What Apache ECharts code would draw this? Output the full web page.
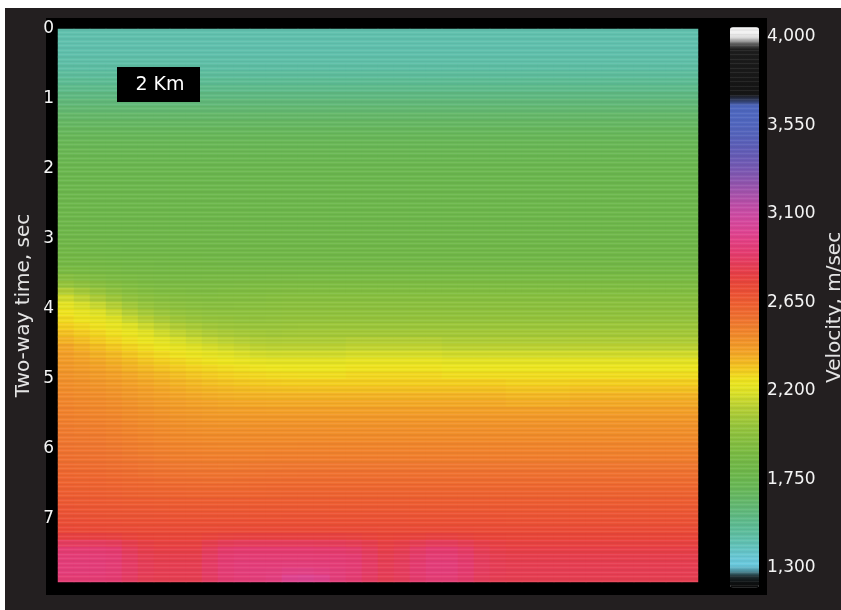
<!DOCTYPE html>
<html>
<head>
<meta charset="utf-8">
<title>Interval velocity section</title>
<script src="https://cdn.jsdelivr.net/npm/echarts@6/dist/echarts.min.js"></script>
<style>
  html, body { margin: 0; padding: 0; background: #ffffff; }
  #chart { position: absolute; left: 0; top: 0; width: 841px; height: 610px; }
</style>
</head>
<body>
<div id="chart"></div>
<script>
// Two-way time of each row centre (s)
const timeRows = [
  0.05, 0.15, 0.25, 0.35, 0.45, 0.55, 0.65, 0.75, 0.85, 0.95,
  1.05, 1.15, 1.25, 1.35, 1.45, 1.55, 1.65, 1.75, 1.85, 1.95,
  2.05, 2.15, 2.25, 2.35, 2.45, 2.55, 2.65, 2.75, 2.85, 2.95,
  3.05, 3.15, 3.25, 3.35, 3.45, 3.55, 3.65, 3.75, 3.85, 3.95,
  4.05, 4.15, 4.25, 4.35, 4.45, 4.55, 4.65, 4.75, 4.85, 4.95,
  5.05, 5.15, 5.25, 5.35, 5.45, 5.55, 5.65, 5.75, 5.85, 5.95,
  6.05, 6.15, 6.25, 6.35, 6.45, 6.55, 6.65, 6.75, 6.85, 6.95,
  7.05, 7.15, 7.25, 7.35, 7.45, 7.55, 7.65, 7.75, 7.85
];

// Trace groups along the line, left to right
const traceCols = [
  '1','2','3','4','5','6','7','8','9','10','11','12','13','14','15','16','17','18','19','20',
  '21','22','23','24','25','26','27','28','29','30','31','32','33','34','35','36','37','38','39','40'
];

// Interval velocity (m/s): one row per time sample, one value per trace group
const velocityRows = [
  [1440,1440,1440,1440,1440,1440,1440,1440,1440,1440,1440,1440,1440,1440,1440,1440,1440,1440,1440,1440,1440,1440,1440,1440,1440,1440,1440,1440,1440,1440,1440,1440,1440,1440,1440,1440,1440,1440,1440,1440],
  [1440,1440,1440,1440,1440,1440,1440,1440,1440,1440,1440,1440,1440,1440,1440,1440,1440,1440,1440,1440,1440,1440,1440,1440,1440,1440,1440,1440,1440,1440,1440,1440,1440,1440,1440,1440,1440,1440,1440,1440],
  [1442,1442,1442,1442,1442,1442,1442,1442,1442,1442,1442,1442,1442,1442,1442,1442,1442,1442,1442,1442,1442,1442,1442,1442,1442,1442,1442,1442,1442,1442,1442,1442,1442,1442,1442,1442,1442,1442,1442,1442],
  [1446,1446,1446,1446,1446,1446,1446,1446,1446,1446,1446,1446,1446,1446,1446,1446,1446,1446,1446,1446,1446,1446,1446,1446,1446,1446,1446,1446,1446,1446,1446,1446,1446,1446,1446,1446,1446,1446,1446,1446],
  [1452,1452,1452,1452,1452,1452,1452,1452,1452,1452,1452,1452,1452,1452,1452,1452,1452,1452,1452,1452,1452,1452,1452,1452,1452,1452,1452,1452,1452,1452,1452,1452,1452,1452,1452,1452,1452,1452,1452,1452],
  [1463,1463,1463,1463,1463,1463,1463,1463,1463,1463,1463,1463,1463,1463,1463,1463,1463,1463,1463,1463,1463,1463,1463,1463,1463,1463,1463,1463,1463,1463,1463,1463,1463,1463,1463,1463,1463,1463,1463,1463],
  [1482,1482,1482,1482,1482,1482,1482,1482,1482,1482,1482,1482,1482,1482,1482,1482,1482,1482,1482,1482,1482,1482,1482,1482,1482,1482,1482,1482,1482,1482,1482,1482,1482,1482,1482,1482,1482,1482,1482,1482],
  [1508,1508,1508,1508,1508,1508,1508,1508,1508,1508,1508,1508,1508,1508,1508,1508,1508,1508,1508,1508,1508,1508,1508,1508,1508,1508,1508,1508,1508,1508,1508,1508,1508,1508,1508,1508,1508,1508,1508,1508],
  [1537,1537,1537,1537,1537,1537,1537,1537,1537,1537,1537,1537,1537,1537,1537,1537,1537,1537,1537,1537,1537,1537,1537,1537,1537,1537,1537,1537,1537,1537,1537,1537,1537,1537,1537,1537,1537,1537,1537,1537],
  [1566,1566,1566,1566,1566,1566,1566,1566,1566,1566,1566,1566,1566,1566,1566,1566,1566,1566,1566,1566,1566,1566,1566,1566,1566,1566,1566,1566,1566,1566,1566,1566,1566,1566,1566,1566,1566,1566,1566,1566],
  [1594,1594,1594,1594,1594,1594,1594,1594,1594,1594,1594,1594,1594,1594,1594,1594,1594,1594,1594,1594,1594,1594,1594,1594,1594,1594,1594,1594,1594,1594,1594,1594,1594,1594,1594,1594,1594,1594,1594,1594],
  [1620,1620,1620,1620,1620,1620,1620,1620,1620,1620,1620,1620,1620,1620,1620,1620,1620,1620,1620,1620,1620,1620,1620,1620,1620,1620,1620,1620,1620,1620,1620,1620,1620,1620,1620,1620,1620,1620,1620,1620],
  [1645,1645,1645,1645,1645,1645,1645,1645,1645,1645,1645,1645,1645,1645,1645,1645,1645,1645,1645,1645,1645,1645,1645,1645,1645,1645,1645,1645,1645,1645,1645,1645,1645,1645,1645,1645,1645,1645,1645,1645],
  [1665,1665,1665,1665,1665,1665,1665,1665,1665,1665,1665,1665,1665,1665,1665,1665,1665,1665,1665,1665,1665,1665,1665,1665,1665,1665,1665,1665,1665,1665,1665,1665,1665,1665,1665,1665,1665,1665,1665,1665],
  [1685,1685,1685,1685,1685,1685,1685,1685,1685,1685,1685,1685,1685,1685,1685,1685,1685,1685,1685,1685,1685,1685,1685,1685,1685,1685,1685,1685,1685,1685,1685,1685,1685,1685,1685,1685,1685,1685,1685,1685],
  [1700,1700,1700,1700,1700,1700,1700,1700,1700,1700,1700,1700,1700,1700,1700,1700,1700,1700,1700,1700,1700,1700,1700,1700,1700,1700,1700,1700,1700,1700,1700,1700,1700,1700,1700,1700,1700,1700,1700,1700],
  [1715,1715,1715,1715,1715,1715,1715,1715,1715,1715,1715,1715,1715,1715,1715,1715,1715,1715,1715,1715,1715,1715,1715,1715,1715,1715,1715,1715,1715,1715,1715,1715,1715,1715,1715,1715,1715,1715,1715,1715],
  [1725,1725,1725,1725,1725,1725,1725,1725,1725,1725,1725,1725,1725,1725,1725,1725,1725,1725,1725,1725,1725,1725,1725,1725,1725,1725,1725,1725,1725,1725,1725,1725,1725,1725,1725,1725,1725,1725,1725,1725],
  [1735,1735,1735,1735,1735,1735,1735,1735,1735,1735,1735,1735,1735,1735,1735,1735,1735,1735,1735,1735,1735,1735,1735,1735,1735,1735,1735,1735,1735,1735,1735,1735,1735,1735,1735,1735,1735,1735,1735,1735],
  [1745,1745,1745,1745,1745,1745,1745,1745,1745,1745,1745,1745,1745,1745,1745,1745,1745,1745,1745,1745,1745,1745,1745,1745,1745,1745,1745,1745,1745,1745,1745,1745,1745,1745,1745,1745,1745,1745,1745,1745],
  [1750,1750,1750,1750,1750,1750,1750,1750,1750,1750,1750,1750,1750,1750,1750,1750,1750,1750,1750,1750,1750,1750,1750,1750,1750,1750,1750,1750,1750,1750,1750,1750,1750,1750,1750,1750,1750,1750,1750,1750],
  [1755,1755,1755,1755,1755,1755,1755,1755,1755,1755,1755,1755,1755,1755,1755,1755,1755,1755,1755,1755,1755,1755,1755,1755,1755,1755,1755,1755,1755,1755,1755,1755,1755,1755,1755,1755,1755,1755,1755,1755],
  [1760,1760,1760,1760,1760,1760,1760,1760,1760,1760,1760,1760,1760,1760,1760,1760,1760,1760,1760,1760,1760,1760,1760,1760,1760,1760,1760,1760,1760,1760,1760,1760,1760,1760,1760,1760,1760,1760,1760,1760],
  [1765,1765,1765,1765,1765,1765,1765,1765,1765,1765,1765,1765,1765,1765,1765,1765,1765,1765,1765,1765,1765,1765,1765,1765,1765,1765,1765,1765,1765,1765,1765,1765,1765,1765,1765,1765,1765,1765,1765,1765],
  [1770,1770,1770,1770,1770,1770,1770,1770,1770,1770,1770,1770,1770,1770,1770,1770,1770,1770,1770,1770,1770,1770,1770,1770,1770,1770,1770,1770,1770,1770,1770,1770,1770,1770,1770,1770,1770,1770,1770,1770],
  [1775,1775,1775,1775,1775,1775,1775,1775,1775,1775,1775,1775,1775,1775,1775,1775,1775,1775,1775,1775,1775,1775,1775,1775,1775,1775,1775,1775,1775,1775,1775,1775,1775,1775,1775,1775,1775,1775,1775,1775],
  [1780,1780,1780,1780,1780,1780,1780,1780,1780,1780,1780,1780,1780,1780,1780,1780,1780,1780,1780,1780,1780,1780,1780,1780,1780,1780,1780,1780,1780,1780,1780,1780,1780,1780,1780,1780,1780,1780,1780,1780],
  [1785,1785,1785,1785,1785,1785,1785,1785,1785,1785,1785,1785,1785,1785,1785,1785,1785,1785,1785,1785,1785,1785,1785,1785,1785,1785,1785,1785,1785,1785,1785,1785,1785,1785,1785,1785,1785,1785,1785,1785],
  [1790,1790,1790,1790,1790,1790,1790,1790,1790,1790,1790,1790,1790,1790,1790,1790,1790,1790,1790,1790,1790,1790,1790,1790,1790,1790,1790,1790,1790,1790,1790,1790,1790,1790,1790,1790,1790,1790,1790,1790],
  [1795,1795,1795,1795,1795,1795,1795,1795,1795,1795,1795,1795,1795,1795,1795,1795,1795,1795,1795,1795,1795,1795,1795,1795,1795,1795,1795,1795,1795,1795,1795,1795,1795,1795,1795,1795,1795,1795,1795,1795],
  [1812,1809,1806,1804,1802,1800,1800,1800,1800,1800,1800,1800,1800,1800,1800,1800,1800,1800,1800,1800,1800,1800,1800,1800,1800,1800,1800,1800,1800,1800,1800,1800,1800,1800,1800,1800,1800,1800,1800,1800],
  [1824,1820,1817,1814,1812,1810,1809,1808,1808,1808,1808,1808,1808,1808,1808,1808,1808,1808,1808,1808,1808,1808,1808,1808,1808,1808,1808,1808,1808,1808,1808,1808,1808,1808,1808,1808,1808,1808,1808,1808],
  [1837,1833,1830,1826,1823,1822,1821,1820,1819,1818,1818,1818,1818,1818,1818,1818,1818,1818,1818,1818,1818,1818,1818,1818,1818,1818,1818,1818,1818,1818,1818,1818,1818,1818,1818,1818,1818,1818,1818,1818],
  [1851,1849,1846,1844,1841,1839,1836,1834,1833,1832,1831,1830,1830,1830,1830,1830,1830,1830,1830,1830,1830,1830,1830,1830,1830,1830,1830,1830,1830,1830,1830,1830,1830,1830,1830,1830,1830,1830,1830,1830],
  [1884,1876,1869,1863,1858,1854,1851,1850,1849,1848,1848,1848,1849,1849,1850,1850,1850,1850,1850,1850,1850,1850,1850,1850,1850,1850,1850,1850,1850,1850,1850,1850,1850,1850,1850,1850,1850,1850,1850,1850],
  [1939,1921,1904,1890,1880,1873,1868,1865,1865,1866,1867,1869,1870,1872,1874,1875,1875,1875,1875,1875,1875,1875,1875,1875,1875,1875,1875,1875,1875,1875,1875,1875,1875,1875,1875,1875,1875,1875,1875,1875],
  [2015,1985,1955,1930,1910,1896,1889,1885,1885,1886,1889,1891,1894,1896,1899,1900,1900,1900,1900,1900,1900,1900,1900,1900,1900,1900,1900,1900,1900,1900,1900,1900,1900,1900,1900,1900,1900,1900,1900,1900],
  [2100,2060,2020,1984,1951,1929,1916,1909,1906,1907,1910,1914,1917,1920,1923,1925,1925,1925,1925,1925,1925,1925,1925,1925,1925,1925,1925,1925,1925,1925,1925,1925,1925,1925,1925,1925,1925,1925,1925,1925],
  [2171,2129,2086,2044,2001,1970,1950,1938,1933,1931,1934,1937,1940,1944,1948,1950,1950,1950,1950,1950,1950,1950,1950,1950,1950,1950,1950,1950,1950,1950,1950,1950,1950,1950,1950,1950,1950,1950,1950,1950],
  [2218,2183,2148,2105,2055,2016,1989,1970,1960,1956,1957,1959,1962,1965,1968,1970,1970,1970,1970,1970,1970,1970,1970,1970,1970,1970,1970,1970,1970,1970,1970,1970,1970,1970,1970,1970,1970,1970,1970,1970],
  [2255,2225,2195,2155,2105,2064,2031,2008,1993,1984,1981,1981,1983,1986,1989,1990,1990,1990,1990,1990,1990,1990,1990,1990,1990,1990,1990,1990,1990,1990,1990,1990,1990,1990,1990,1990,1990,1990,1990,1990],
  [2276,2254,2231,2198,2153,2113,2078,2050,2030,2016,2009,2005,2004,2006,2009,2010,2010,2010,2010,2010,2010,2010,2010,2010,2010,2010,2010,2010,2010,2010,2010,2010,2010,2010,2010,2010,2010,2010,2010,2010],
  [2300,2280,2260,2233,2198,2161,2124,2094,2071,2054,2041,2033,2029,2029,2033,2035,2035,2035,2035,2035,2035,2035,2035,2035,2035,2035,2035,2035,2035,2035,2035,2035,2035,2035,2035,2035,2035,2035,2035,2035],
  [2331,2309,2286,2263,2238,2206,2169,2138,2113,2093,2078,2066,2057,2054,2058,2060,2060,2060,2060,2060,2060,2060,2060,2060,2060,2060,2060,2060,2060,2060,2060,2060,2060,2060,2060,2060,2060,2060,2060,2060],
  [2363,2338,2313,2289,2266,2240,2210,2183,2158,2136,2119,2104,2091,2086,2089,2090,2090,2090,2102,2102,2102,2102,2102,2102,2090,2090,2090,2090,2090,2090,2090,2090,2090,2090,2090,2090,2090,2090,2090,2090],
  [2394,2366,2339,2314,2291,2269,2246,2224,2201,2181,2164,2147,2130,2123,2124,2125,2125,2125,2137,2137,2137,2137,2137,2137,2125,2125,2125,2125,2125,2125,2125,2125,2125,2125,2125,2125,2125,2125,2125,2125],
  [2411,2389,2366,2343,2318,2295,2275,2256,2239,2223,2208,2192,2176,2169,2170,2170,2170,2170,2182,2182,2182,2182,2182,2182,2170,2170,2170,2170,2170,2170,2170,2170,2170,2170,2170,2170,2170,2170,2170,2170],
  [2424,2406,2389,2368,2343,2320,2300,2283,2269,2257,2246,2234,2221,2215,2215,2215,2215,2215,2227,2227,2227,2227,2227,2227,2215,2215,2215,2215,2215,2215,2215,2215,2215,2215,2215,2215,2215,2215,2215,2215],
  [2438,2423,2408,2389,2366,2346,2327,2311,2296,2283,2273,2264,2255,2249,2246,2245,2245,2245,2257,2257,2257,2257,2257,2257,2245,2245,2245,2245,2245,2245,2245,2245,2245,2245,2245,2245,2245,2245,2245,2245],
  [2451,2439,2426,2410,2389,2369,2352,2336,2321,2308,2298,2289,2281,2275,2272,2270,2270,2270,2282,2282,2282,2282,2282,2282,2270,2270,2270,2270,2270,2270,2270,2270,2270,2270,2270,2270,2270,2270,2270,2270],
  [2466,2454,2441,2426,2407,2390,2373,2358,2344,2332,2323,2315,2308,2304,2301,2300,2300,2300,2300,2300,2300,2300,2300,2300,2300,2300,2300,2300,2290,2290,2290,2290,2300,2300,2300,2300,2300,2300,2300,2300],
  [2475,2465,2455,2441,2424,2408,2393,2379,2366,2356,2347,2341,2336,2333,2331,2330,2330,2330,2330,2330,2330,2330,2330,2330,2330,2330,2330,2330,2320,2320,2320,2320,2330,2330,2330,2330,2330,2330,2330,2330],
  [2490,2480,2470,2456,2439,2423,2410,2398,2387,2378,2371,2366,2363,2361,2360,2360,2360,2360,2360,2360,2360,2360,2360,2360,2360,2360,2360,2360,2350,2350,2350,2350,2360,2360,2360,2360,2360,2360,2360,2360],
  [2499,2491,2482,2470,2453,2439,2426,2416,2407,2399,2393,2389,2387,2386,2385,2385,2385,2385,2385,2385,2385,2385,2385,2385,2385,2385,2385,2385,2375,2375,2375,2375,2385,2385,2385,2385,2385,2385,2385,2385],
  [2509,2501,2494,2483,2468,2454,2442,2432,2424,2418,2414,2412,2411,2410,2410,2410,2410,2410,2410,2410,2410,2410,2410,2410,2410,2410,2410,2410,2410,2410,2410,2410,2410,2410,2410,2410,2410,2410,2410,2410],
  [2518,2512,2505,2495,2480,2467,2456,2447,2440,2435,2432,2430,2430,2430,2430,2430,2430,2430,2430,2430,2430,2430,2430,2430,2430,2430,2430,2430,2430,2430,2430,2430,2430,2430,2430,2430,2430,2430,2430,2430],
  [2528,2522,2517,2507,2493,2480,2469,2460,2455,2451,2448,2448,2449,2449,2450,2450,2450,2450,2450,2450,2450,2450,2450,2450,2450,2450,2450,2450,2450,2450,2450,2450,2450,2450,2450,2450,2450,2450,2450,2450],
  [2538,2533,2528,2518,2505,2493,2482,2474,2469,2465,2463,2463,2464,2464,2465,2465,2465,2465,2465,2465,2465,2465,2465,2465,2465,2465,2465,2465,2465,2465,2465,2465,2465,2465,2465,2465,2465,2465,2465,2465],
  [2547,2543,2538,2530,2517,2505,2494,2487,2482,2479,2477,2477,2478,2479,2480,2480,2480,2480,2480,2480,2480,2480,2480,2480,2480,2480,2480,2480,2480,2480,2480,2480,2480,2480,2480,2480,2480,2480,2480,2480],
  [2557,2553,2549,2541,2528,2517,2507,2500,2496,2493,2491,2491,2492,2493,2494,2495,2495,2495,2495,2495,2495,2495,2495,2495,2495,2495,2495,2495,2495,2495,2495,2495,2495,2495,2495,2495,2495,2495,2495,2495],
  [2567,2563,2560,2552,2541,2530,2521,2514,2511,2508,2507,2507,2508,2509,2510,2510,2510,2510,2510,2510,2510,2510,2510,2510,2510,2510,2510,2510,2510,2510,2510,2510,2510,2510,2510,2510,2510,2510,2510,2510],
  [2580,2576,2572,2565,2555,2546,2537,2530,2527,2525,2524,2524,2526,2528,2529,2530,2530,2530,2530,2530,2530,2530,2530,2530,2530,2530,2530,2530,2530,2530,2530,2530,2530,2530,2530,2530,2530,2530,2530,2530],
  [2592,2588,2585,2579,2570,2561,2552,2547,2544,2542,2541,2542,2545,2547,2549,2550,2550,2550,2550,2550,2550,2550,2550,2550,2550,2550,2550,2550,2550,2550,2550,2550,2550,2550,2550,2550,2550,2550,2550,2550],
  [2607,2603,2600,2594,2585,2576,2569,2564,2561,2560,2560,2562,2565,2567,2569,2570,2570,2570,2570,2570,2570,2570,2570,2570,2570,2570,2570,2570,2570,2570,2570,2570,2570,2570,2570,2570,2570,2570,2570,2570],
  [2622,2618,2615,2609,2602,2595,2588,2583,2581,2580,2580,2582,2585,2587,2589,2590,2590,2590,2590,2590,2590,2590,2590,2590,2590,2590,2590,2590,2590,2590,2590,2590,2590,2590,2590,2590,2590,2590,2590,2590],
  [2637,2633,2630,2625,2618,2612,2607,2603,2601,2600,2600,2602,2605,2607,2609,2610,2610,2610,2610,2610,2610,2610,2610,2610,2610,2610,2610,2610,2610,2610,2610,2610,2610,2610,2610,2610,2610,2610,2610,2610],
  [2652,2648,2645,2640,2635,2630,2626,2623,2621,2620,2620,2622,2625,2627,2629,2630,2630,2630,2630,2630,2630,2630,2630,2630,2630,2630,2630,2630,2630,2630,2630,2630,2630,2630,2630,2630,2630,2630,2630,2630],
  [2667,2664,2661,2659,2656,2653,2651,2649,2649,2649,2649,2649,2649,2649,2650,2650,2650,2650,2650,2650,2650,2650,2650,2650,2650,2650,2650,2650,2648,2648,2648,2648,2648,2648,2648,2648,2648,2648,2648,2648],
  [2682,2679,2676,2674,2672,2670,2668,2666,2666,2666,2666,2666,2666,2666,2668,2668,2668,2668,2668,2668,2668,2668,2668,2668,2668,2668,2668,2668,2666,2666,2666,2666,2666,2666,2666,2666,2666,2666,2666,2666],
  [2697,2694,2691,2689,2688,2688,2687,2685,2685,2685,2685,2685,2685,2685,2686,2686,2686,2686,2686,2686,2686,2686,2686,2686,2686,2686,2686,2686,2684,2684,2684,2684,2684,2684,2684,2684,2684,2684,2684,2684],
  [2714,2711,2709,2707,2706,2705,2704,2703,2703,2703,2703,2703,2703,2703,2705,2705,2705,2705,2705,2705,2705,2705,2705,2705,2705,2705,2705,2705,2702,2702,2702,2702,2702,2702,2702,2702,2702,2702,2702,2702],
  [2732,2730,2729,2727,2724,2722,2722,2722,2722,2722,2726,2726,2726,2726,2726,2726,2726,2726,2726,2726,2722,2722,2726,2726,2726,2726,2722,2722,2722,2722,2722,2722,2722,2722,2722,2722,2722,2722,2722,2722],
  [2780,2780,2780,2775,2760,2750,2745,2745,2745,2760,2770,2775,2775,2775,2775,2775,2775,2775,2770,2760,2748,2755,2765,2775,2775,2765,2755,2750,2745,2745,2745,2745,2745,2745,2745,2745,2745,2745,2745,2745],
  [2860,2860,2860,2850,2815,2790,2775,2775,2775,2815,2840,2850,2850,2850,2850,2850,2845,2845,2835,2815,2785,2800,2830,2850,2850,2830,2805,2785,2775,2775,2775,2775,2775,2775,2775,2775,2775,2775,2775,2775],
  [2910,2910,2910,2900,2850,2815,2800,2800,2800,2850,2890,2900,2900,2900,2900,2900,2895,2895,2885,2850,2810,2830,2875,2900,2900,2875,2835,2810,2800,2800,2800,2800,2800,2800,2800,2800,2800,2800,2800,2800],
  [2925,2925,2925,2915,2865,2830,2815,2815,2815,2865,2905,2920,2920,2920,2920,2920,2915,2915,2905,2865,2825,2845,2890,2920,2920,2890,2850,2825,2815,2815,2815,2815,2815,2815,2815,2815,2815,2815,2815,2815],
  [2930,2930,2930,2920,2875,2840,2825,2825,2825,2875,2915,2930,2930,2930,2935,2935,2930,2925,2915,2875,2835,2855,2900,2930,2930,2900,2860,2835,2825,2825,2825,2825,2825,2825,2825,2825,2825,2825,2825,2825],
  [2930,2930,2930,2920,2878,2843,2830,2830,2830,2878,2920,2935,2940,2945,2965,2970,2955,2935,2920,2878,2840,2858,2905,2930,2930,2900,2860,2838,2830,2830,2830,2830,2830,2830,2830,2830,2830,2830,2830,2830],
  [2915,2915,2915,2905,2868,2835,2825,2825,2825,2868,2910,2925,2935,2950,3000,3010,2990,2935,2910,2868,2832,2850,2895,2920,2920,2890,2850,2830,2825,2825,2825,2825,2825,2825,2825,2825,2825,2825,2825,2825]
];

// Colour scale stops, 1,200 to 4,050 m/s every 50 m/s
const velocityPalette = [
  '#0c0c0c','#101416','#6ccbe0','#6ac8d8','#64c4c0','#60c0aa','#5ebd98','#5fbb88','#62b978','#66b868',
  '#69b85a','#6cb850','#70b84a','#76ba46','#7ebd43','#88c040','#92c33e','#a0c83a','#b2ce36','#c8d830',
  '#e0e226','#eee620','#f4d020','#f4b824','#f4a428','#f2942a','#f2862c','#f07830','#ef6a30','#ee5e32',
  '#ec5236','#ea463a','#e84048','#e63e5c','#e53c70','#e44080','#e04490','#d8489c','#cc4ca4','#bc4fa8',
  '#a853ac','#9455ae','#8258b2','#725ab4','#665cb6','#5c5fb8','#5663bb','#5266be','#5068c0','#4e68c0',
  '#161616','#151515','#181818','#1a1a1a','#1c1c1c','#1e1e1e','#f2f2f2','#f2f2f2'
];
const velocityMin = 1200;
const velocityMax = 4050;

// Axis labels
const timeTicks = [0, 1, 2, 3, 4, 5, 6, 7];
const velocityTicks = [1300, 1750, 2200, 2650, 3100, 3550, 4000];

const cells = [];
velocityRows.forEach(function (row, r) {
  row.forEach(function (v, c) { cells.push([c, r, v]); });
});

// Fine horizontal scan-line texture laid over the section and the colour bar
function scanLines() {
  const cv = document.createElement('canvas');
  cv.width = 4; cv.height = 9;
  const g = cv.getContext('2d');
  g.fillStyle = 'rgba(255,255,255,0.07)';
  g.fillRect(0, 0, 4, 1);
  g.fillRect(0, 5, 4, 1);
  g.fillStyle = 'rgba(0,0,0,0.04)';
  g.fillRect(0, 2, 4, 2);
  g.fillRect(0, 7, 4, 1);
  return cv;
}
const linePattern = { image: scanLines(), repeat: 'repeat' };

const FONT = "'DejaVu Sans', sans-serif";
const withComma = function (v) { return String(v).replace(/\B(?=(\d{3})+(?!\d))/g, ','); };

const chart = echarts.init(document.getElementById('chart'), null, { renderer: 'canvas' });
chart.setOption({
  animation: false,
  backgroundColor: 'transparent',
  graphic: [
    { type: 'rect', z: -20, silent: true, shape: { x: 5, y: 8, width: 836, height: 602 }, style: { fill: '#231f20' } },
    { type: 'rect', z: -19, silent: true, shape: { x: 46, y: 18, width: 721, height: 577 }, style: { fill: '#000000' } },
    { type: 'rect', z: 40, silent: true, shape: { x: 58, y: 29, width: 640, height: 553 }, style: { fill: linePattern } },
    { type: 'rect', z: 40, silent: true, shape: { x: 730, y: 27, width: 29, height: 561 }, style: { fill: linePattern } },
    { type: 'rect', z: 50, silent: true, shape: { x: 117, y: 67, width: 83, height: 35 }, style: { fill: '#000000' } },
    { type: 'text', z: 51, silent: true, x: 160, y: 85, style: { text: '2 Km', fill: '#ffffff', font: '19px ' + FONT, align: 'center', verticalAlign: 'middle' } }
  ],
  grid: [
    { left: 58, top: 29, width: 640, height: 553, outerBoundsMode: 'none' },
    { left: 730, top: 27.2, width: 29, height: 560.4, outerBoundsMode: 'none' }
  ],
  xAxis: [
    { type: 'category', gridIndex: 0, data: traceCols, show: false },
    { type: 'value', gridIndex: 1, show: false }
  ],
  yAxis: [
    { type: 'category', gridIndex: 0, data: timeRows, inverse: true, show: false },
    {
      type: 'value', gridIndex: 0, min: 0, max: 7.9, inverse: true, position: 'left',
      axisLine: { show: false }, axisTick: { show: false }, splitLine: { show: false },
      axisLabel: { customValues: timeTicks, color: '#f4f4f4', fontSize: 17, fontFamily: FONT, margin: 4 },
      name: 'Two-way time, sec', nameLocation: 'middle', nameGap: 24, nameMoveOverlap: false,
      nameTextStyle: { color: '#e4e4e4', fontSize: 20, fontFamily: FONT }
    },
    {
      type: 'value', gridIndex: 1, min: velocityMin, max: velocityMax, position: 'right',
      axisLine: { show: false }, axisTick: { show: false }, splitLine: { show: false },
      axisLabel: { customValues: velocityTicks, formatter: withComma, color: '#f4f4f4', fontSize: 17, fontFamily: FONT, margin: 8 },
      name: 'Velocity, m/sec', nameLocation: 'middle', nameGap: 66, nameMoveOverlap: false,
      nameTextStyle: { color: '#e4e4e4', fontSize: 20, fontFamily: FONT }
    }
  ],
  visualMap: {
    type: 'continuous', seriesIndex: 0, min: velocityMin, max: velocityMax,
    calculable: false, orient: 'vertical', left: 730, top: 27.2, padding: 0,
    itemWidth: 29, itemHeight: 560.4, text: null, hoverLink: false,
    inRange: { color: velocityPalette }
  },
  series: [{
    type: 'heatmap', xAxisIndex: 0, yAxisIndex: 0, data: cells,
    progressive: 0, emphasis: { disabled: true }, itemStyle: { borderWidth: 0 }
  }]
});
</script>
</body>
</html>
